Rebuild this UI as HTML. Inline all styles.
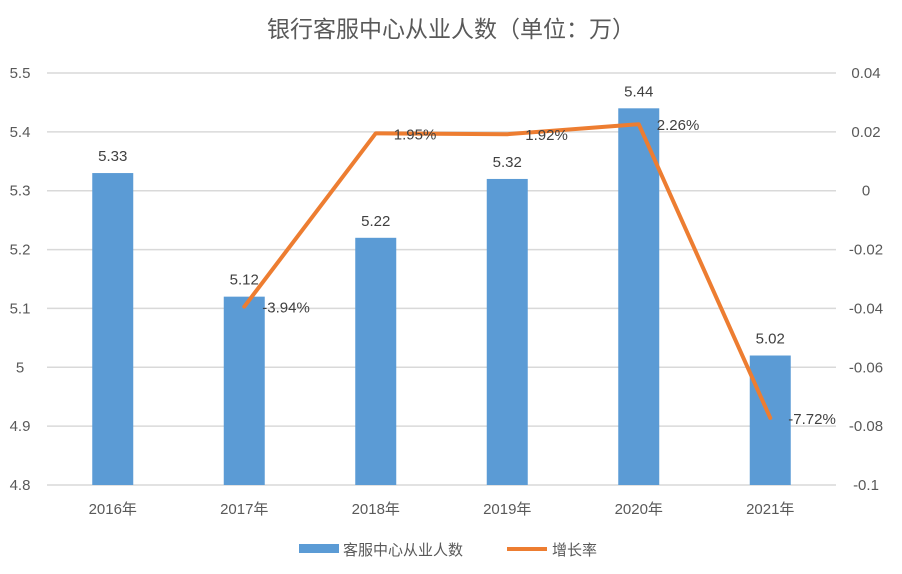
<!DOCTYPE html>
<html><head><meta charset="utf-8"><style>
body{margin:0;background:#fff;}
svg{display:block;font-family:"Liberation Sans","Noto Sans CJK SC",sans-serif;}
</style></head><body>
<svg id="c" width="902" height="574"></svg>
<script>
const categories=["2016年","2017年","2018年","2019年","2020年","2021年"];
const barValues=[5.33,5.12,5.22,5.32,5.44,5.02];
const barLabels=["5.33","5.12","5.22","5.32","5.44","5.02"];
const rateValues=[null,-0.0394,0.0195,0.0192,0.0226,-0.0772];
const rateLabels=["","-3.94%","1.95%","1.92%","2.26%","-7.72%"];
const leftTicks=[4.8,4.9,5,5.1,5.2,5.3,5.4,5.5];
const leftTickLabels=["4.8","4.9","5","5.1","5.2","5.3","5.4","5.5"];
const rightTicks=[-0.1,-0.08,-0.06,-0.04,-0.02,0,0.02,0.04];
const rightTickLabels=["-0.1","-0.08","-0.06","-0.04","-0.02","0","0.02","0.04"];

const svg=document.getElementById('c');const NS="http://www.w3.org/2000/svg";
const X0=47,X1=836,YT=73,YB=485;
const step=(X1-X0)/categories.length;
const xC=i=>X0+step*(i+0.5);
const yL=v=>YB-(v-4.8)/(0.7)*(YB-YT);
const yR=v=>YB-(v+0.1)/(0.14)*(YB-YT);
function mk(t,a,txt){const e=document.createElementNS(NS,t);for(const k in a)e.setAttribute(k,a[k]);if(txt!==undefined)e.textContent=txt;svg.appendChild(e);return e;}

let t=mk('text',{x:451,y:37,'text-anchor':'middle','font-size':23,fill:'#595959'},'银行客服中心从业人数（单位：万）');



leftTicks.forEach((v,i)=>{
  const g=mk('line',{x1:X0,x2:X1,y1:yL(v),y2:yL(v),stroke:'#d9d9d9','stroke-width':1.5});
  
  
  const l=mk('text',{x:20,y:yL(v)+5,'text-anchor':'middle','font-size':15,fill:'#595959'},leftTickLabels[i]);
  
  
});
rightTicks.forEach((v,i)=>{
  const l=mk('text',{x:866,y:yR(v)+5,'text-anchor':'middle','font-size':15,fill:'#595959'},rightTickLabels[i]);
  
  
});
categories.forEach((c,i)=>{
  const l=mk('text',{x:xC(i),y:514,'text-anchor':'middle','font-size':15,fill:'#595959'},c);
  
  
});
barValues.forEach((v,i)=>{
  const b=mk('rect',{x:xC(i)-20.5,y:yL(v),width:41,height:YB-yL(v),fill:'#5b9bd5'});
  
  
  const l=mk('text',{x:xC(i),y:yL(v)-12,'text-anchor':'middle','font-size':15,fill:'#404040'},barLabels[i]);
  
  
});
let pts=[];rateValues.forEach((v,i)=>{if(v!==null)pts.push(xC(i)+','+yR(v));});
const pl=mk('polyline',{points:pts.join(' '),fill:'none',stroke:'#ed7d31','stroke-width':4,'stroke-linejoin':'round','stroke-linecap':'round'});


rateValues.forEach((v,i)=>{if(v===null)return;
  const l=mk('text',{x:xC(i)+18,y:yR(v)+6,'text-anchor':'start','font-size':15,fill:'#404040'},rateLabels[i]);
  
  
});
const lr=mk('rect',{x:299,y:544,width:40,height:9,fill:'#5b9bd5'});


const lt=mk('text',{x:343,y:555,'font-size':15,fill:'#595959'},'客服中心从业人数');


const ll=mk('line',{x1:507,x2:547,y1:549,y2:549,stroke:'#ed7d31','stroke-width':4});


const lt2=mk('text',{x:552,y:555,'font-size':15,fill:'#595959'},'增长率');


</script>
</body></html>
